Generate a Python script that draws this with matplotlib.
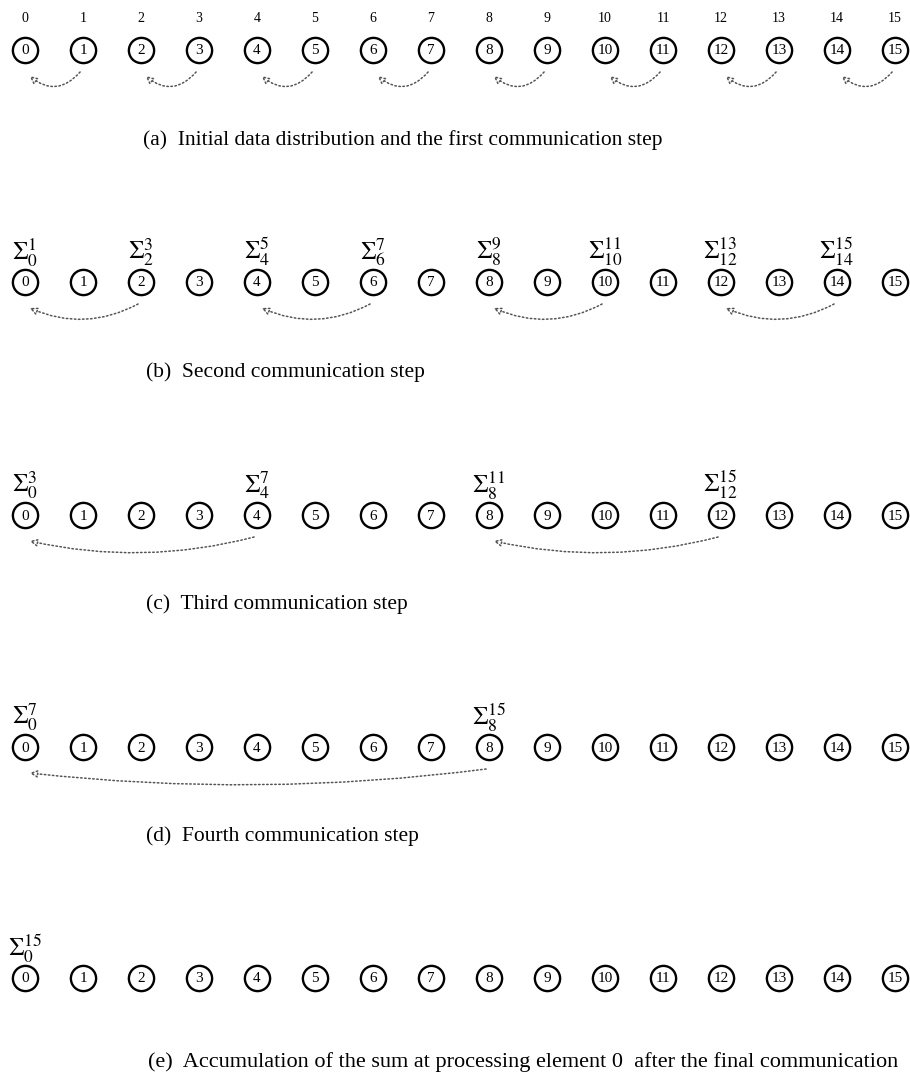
import matplotlib
matplotlib.use('Agg')
import matplotlib.pyplot as plt

plt.rcParams['font.family'] = ['Liberation Serif', 'DejaVu Serif']
plt.rcParams['mathtext.fontset'] = 'stix'

# Processing elements
nodes = list(range(16))

# Communication steps: (source, destination)
sends_a = [(1, 0), (3, 2), (5, 4), (7, 6), (9, 8), (11, 10), (13, 12), (15, 14)]
sends_b = [(2, 0), (6, 4), (10, 8), (14, 12)]
sends_c = [(4, 0), (12, 8)]
sends_d = [(8, 0)]
sends_e = []

# Partial sums held after each step: (node, lower index, upper index)
sums_b = [(0, 0, 1), (2, 2, 3), (4, 4, 5), (6, 6, 7), (8, 8, 9), (10, 10, 11), (12, 12, 13), (14, 14, 15)]
sums_c = [(0, 0, 3), (4, 4, 7), (8, 8, 11), (12, 12, 15)]
sums_d = [(0, 0, 7), (8, 8, 15)]
sums_e = [(0, 0, 15)]

captions = [
    '(a)  Initial data distribution and the first communication step',
    '(b)  Second communication step',
    '(c)  Third communication step',
    '(d)  Fourth communication step',
    '(e)  Accumulation of the sum at processing element 0  after the final communication',
]

steps = [sends_a, sends_b, sends_c, sends_d, sends_e]
sums = [None, sums_b, sums_c, sums_d, sums_e]

# layout (pixels)
W, H = 910, 1079
x0, dx = 25, 58.0
row_y = [50, 282, 515, 747, 978]
cap_y = [140, 372, 604, 836, 1062]
cap_x = [143, 146, 146, 146, 148]
cap_size = [15.5, 15.5, 15.5, 15.5, 16]
sag = 14

fig = plt.figure(figsize=(W / 100, H / 100), dpi=100)
ax = fig.add_axes([0, 0, 1, 1])
ax.set_xlim(-x0 / dx, (W - x0) / dx)
ax.set_ylim(H, 0)
ax.axis('off')

for r, y in enumerate(row_y):
    ax.scatter(nodes, [y] * len(nodes), s=330, facecolor='white',
               edgecolor='black', linewidth=1.7, zorder=3)
    for n in nodes:
        ax.text(n, y + 1, str(n), ha='center', va='center', fontsize=11,
                zorder=4)

    if r == 0:
        for n in nodes:
            ax.text(n, y - 31, str(n), ha='center', va='center', fontsize=10)
    else:
        for n, lo, hi in sums[r]:
            ax.text(n, y - 14, r'$\Sigma_{%d}^{%d}$' % (lo, hi), ha='center',
                    va='bottom', fontsize=18)

    for src, dst in steps[r]:
        span = (src - dst) * dx
        rad = -2 * sag / span
        ax.annotate('', xy=(dst + 0.08, y + 26), xytext=(src - 0.05, y + 22),
                    arrowprops=dict(arrowstyle='-|>,head_length=0.45,head_width=0.22',
                                    linestyle=':', color='#555555', fc='white',
                                    lw=1.1, shrinkA=0, shrinkB=0,
                                    connectionstyle='arc3,rad=%.3f' % rad))

    ax.text((cap_x[r] - x0) / dx, cap_y[r], captions[r], ha='left',
            va='center', fontsize=cap_size[r])

fig.savefig('out.png', dpi=100)
